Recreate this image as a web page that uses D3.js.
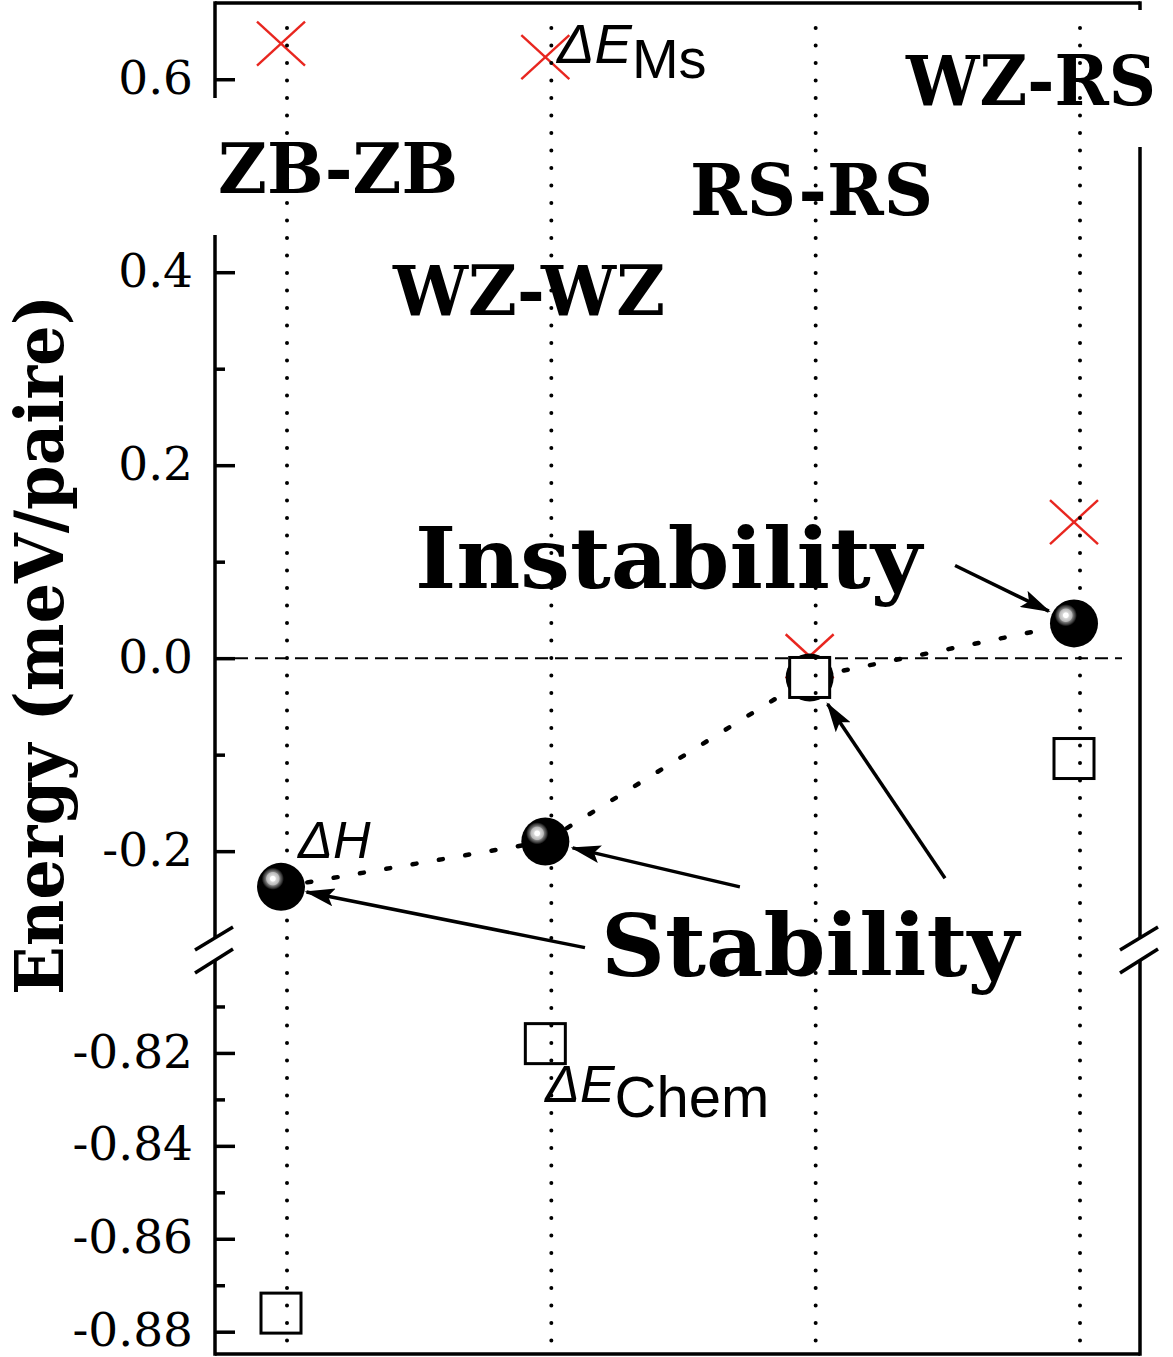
<!DOCTYPE html>
<html>
<head>
<meta charset="utf-8">
<script src="https://cdn.jsdelivr.net/npm/d3@7"></script>
<style>
  html, body { margin: 0; padding: 0; background: #fff; }
  svg { display: block; }
</style>
</head>
<body>
<script>
// ---------------- DATA ----------------
const categories = ["ZB-ZB", "WZ-WZ", "RS-RS", "WZ-RS"];
const deltaH     = [-0.237, -0.190, -0.020, 0.036];   // spheres (ΔH)
const deltaEMs   = [0.637, 0.623, 0.002, 0.141];      // red crosses (ΔE_Ms)
const deltaEChem = [-0.876, -0.818, -0.020, -0.104];  // open squares (ΔE_Chem)

const upperMajorTicks = [0.6, 0.4, 0.2, 0.0, -0.2];
const upperMinorTicks = [0.3, 0.1, -0.1];
const lowerMajorTicks = [-0.82, -0.84, -0.86, -0.88];
const lowerMinorTicks = [-0.81, -0.83, -0.85, -0.87];

const yAxisTitle = "Energy (meV/paire)";

// ---------------- LAYOUT ----------------
const W = 1173, H = 1357;
const X0 = 215, X1 = 1140, YTOP = 3, YBOT = 1354;
const BREAK_TOP = 938, BREAK_BOT = 960;

const svg = d3.select("body").append("svg").attr("width", W).attr("height", H);
svg.append("rect").attr("width", W).attr("height", H).attr("fill", "#fff");

const defs = svg.append("defs");
const grad = defs.append("radialGradient").attr("id", "sph")
  .attr("cx", 0.33).attr("cy", 0.33).attr("r", 0.5).attr("fx", 0.33).attr("fy", 0.33);
[[0, "#fff"], [0.1, "#fff"], [0.14, "#d8d8d8"], [0.26, "#b8b8b8"], [0.3, "#777"],
 [0.4, "#333"], [0.46, "#000"], [1, "#000"]].forEach(([o, c]) =>
  grad.append("stop").attr("offset", o).attr("stop-color", c));

defs.append("marker").attr("id", "ah")
  .attr("markerUnits", "userSpaceOnUse")
  .attr("viewBox", "0 0 30 18").attr("refX", 28).attr("refY", 9)
  .attr("markerWidth", 30).attr("markerHeight", 18).attr("orient", "auto")
  .append("path").attr("d", "M0,0 L30,9 L0,18 L6,9 Z").attr("fill", "#000");

// scales
const x = d3.scalePoint().domain(categories).range([281, 1074]);
const xi = d3.scaleLinear().domain([0, categories.length - 1]).range([281, 1074]);
const yU = d3.scaleLinear().domain([-0.29, 0.679]).range([BREAK_TOP, YTOP]);
const yL = d3.scaleLinear().domain([-0.8848, -0.80]).range([YBOT, BREAK_BOT]);
const y = v => (v > -0.5 ? yU(v) : yL(v));

// ---------------- AXES FRAME ----------------
const frame = svg.append("g").attr("stroke", "#000").attr("stroke-width", 3.5).attr("fill", "none");
const seg = (x1, y1, x2, y2) => frame.append("line")
  .attr("x1", x1).attr("y1", y1).attr("x2", x2).attr("y2", y2);
// left axis (gap where ZB-ZB label sits, and break)
seg(X0, YTOP - 1.7, X0, 98);
seg(X0, 235, X0, BREAK_TOP);
seg(X0, BREAK_BOT, X0, YBOT + 1.7);
// right axis (gap where WZ-RS label sits, and break)
seg(X1, YTOP - 1.7, X1, 10);
seg(X1, 147, X1, BREAK_TOP);
seg(X1, BREAK_BOT, X1, YBOT + 1.7);
// top & bottom
seg(X0, YTOP, X1, YTOP);
seg(X0, YBOT, X1, YBOT);
// break marks
[X0, X1].forEach(bx => {
  seg(bx - 20, 950, bx + 18, 927);
  seg(bx - 20, 973, bx + 18, 949);
});

// ticks
function ticks(scale, vals, size, fmt) {
  const ax = d3.axisLeft(scale).tickValues(vals).tickSize(-size).tickPadding(22)
    .tickFormat(fmt);
  const g = svg.append("g").attr("transform", `translate(${X0},0)`).call(ax);
  g.select(".domain").remove();
  g.selectAll(".tick line").attr("stroke", "#000").attr("stroke-width", 3.5);
  g.selectAll(".tick text").attr("fill", "#000")
    .attr("font-family", "'DejaVu Serif', serif").attr("font-size", 47)
    .attr("dy", "0.3em");
  return g;
}
ticks(yU, upperMajorTicks, 20, d => d.toFixed(1));
ticks(yU, upperMinorTicks, 10, () => "");
ticks(yL, lowerMajorTicks, 20, d => d.toFixed(2));
ticks(yL, lowerMinorTicks, 10, () => "");

// y-axis title
svg.append("text")
  .attr("transform", "translate(63,645) rotate(-90)")
  .attr("text-anchor", "middle")
  .attr("font-family", "'DejaVu Serif', serif").attr("font-weight", "bold")
  .attr("font-size", 68)
  .attr("textLength", 700).attr("lengthAdjust", "spacingAndGlyphs")
  .text(yAxisTitle);

// zero dashed line
svg.append("line")
  .attr("x1", X0).attr("x2", 1122).attr("y1", yU(0)).attr("y2", yU(0))
  .attr("stroke", "#000").attr("stroke-width", 2).attr("stroke-dasharray", "13 7");

// ---------------- DATA MARKS ----------------
// dotted connecting line through ΔH
svg.append("path")
  .datum(categories.map((c, i) => [x(c), y(deltaH[i])]))
  .attr("d", d3.line())
  .attr("fill", "none").attr("stroke", "#000").attr("stroke-width", 4.5)
  .attr("stroke-linecap", "round").attr("stroke-dasharray", "4 22.7");

// red crosses ΔE_Ms
const crossG = svg.append("g").attr("stroke", "#e8261f").attr("stroke-width", 2.4);
categories.forEach((c, i) => {
  const cx = x(c), cy = y(deltaEMs[i]);
  crossG.append("line").attr("x1", cx - 24).attr("y1", cy - 22).attr("x2", cx + 24).attr("y2", cy + 22);
  crossG.append("line").attr("x1", cx - 24).attr("y1", cy + 22).attr("x2", cx + 24).attr("y2", cy - 22);
});

// spheres ΔH
svg.append("g").selectAll("circle").data(deltaH).join("circle")
  .attr("cx", (d, i) => x(categories[i])).attr("cy", d => y(d))
  .attr("r", 24).attr("fill", "url(#sph)");

// squares ΔE_Chem
svg.append("g").selectAll("rect").data(deltaEChem).join("rect")
  .attr("x", (d, i) => x(categories[i]) - 20).attr("y", d => y(d) - 20)
  .attr("width", 40).attr("height", 40)
  .attr("fill", "#fff").attr("stroke", "#000").attr("stroke-width", 3);

// vertical dotted guide lines
svg.append("g").selectAll("line").data(categories).join("line")
  .attr("x1", c => x(c) + 6).attr("x2", c => x(c) + 6)
  .attr("y1", 28).attr("y2", YBOT - 2)
  .attr("stroke", "#000").attr("stroke-width", 4)
  .attr("stroke-linecap", "round").attr("stroke-dasharray", "0 17.5");

// ---------------- LABELS ----------------
const serifBold = (t, xx, yy, fs, len) => svg.append("text")
  .attr("x", xx).attr("y", yy)
  .attr("font-family", "'DejaVu Serif', serif").attr("font-weight", "bold")
  .attr("font-size", fs).attr("textLength", len).attr("lengthAdjust", "spacingAndGlyphs")
  .text(t);

serifBold(categories[0], 218, 193, 70, 240);
serifBold(categories[1], 393, 315, 70, 272);
serifBold(categories[2], 690, 215, 71, 243);
serifBold(categories[3], 906, 105, 70, 250);
serifBold("Instability", 415, 588, 84, 507);
serifBold("Stability", 601, 976, 86, 418);

// series labels (sans, italic Δ-symbols)
const sans = "'Liberation Sans', Arial, sans-serif";
const lblMs = svg.append("text").attr("font-family", sans).attr("x", 557).attr("y", 63);
lblMs.append("tspan").attr("font-style", "italic").attr("font-size", 56).text("ΔE");
lblMs.append("tspan").attr("font-size", 56).attr("dy", 15).text("Ms");

svg.append("text").attr("font-family", sans).attr("font-style", "italic")
  .attr("font-size", 52).attr("x", 298).attr("y", 858).text("ΔH");

const lblCh = svg.append("text").attr("font-family", sans).attr("x", 545).attr("y", 1102);
lblCh.append("tspan").attr("font-style", "italic").attr("font-size", 52).text("ΔE");
lblCh.append("tspan").attr("font-size", 58).attr("dy", 15).text("Chem");

// ---------------- ARROWS ----------------
// tail in (category index, value), target = data point, stopping 'gap' px before it
const arrows = [
  { tail: [2.55, 0.096],  idx: 3, series: deltaH,     gap: 28 },
  { tail: [1.15, -0.30],  idx: 0, series: deltaH,     gap: 26 },
  { tail: [1.736, -0.237], idx: 1, series: deltaH,    gap: 28 },
  { tail: [2.512, -0.228], idx: 2, series: deltaEChem, gap: 32 }
];
arrows.forEach(a => {
  const tx = xi(a.tail[0]), ty = y(a.tail[1]);
  const cx = x(categories[a.idx]), cy = y(a.series[a.idx]);
  const dx = tx - cx, dy = ty - cy, L = Math.hypot(dx, dy);
  const ex = cx + dx / L * a.gap, ey = cy + dy / L * a.gap;
  svg.append("line").attr("x1", tx).attr("y1", ty).attr("x2", ex).attr("y2", ey)
    .attr("stroke", "#000").attr("stroke-width", 3.5).attr("marker-end", "url(#ah)");
});
</script>
</body>
</html>
